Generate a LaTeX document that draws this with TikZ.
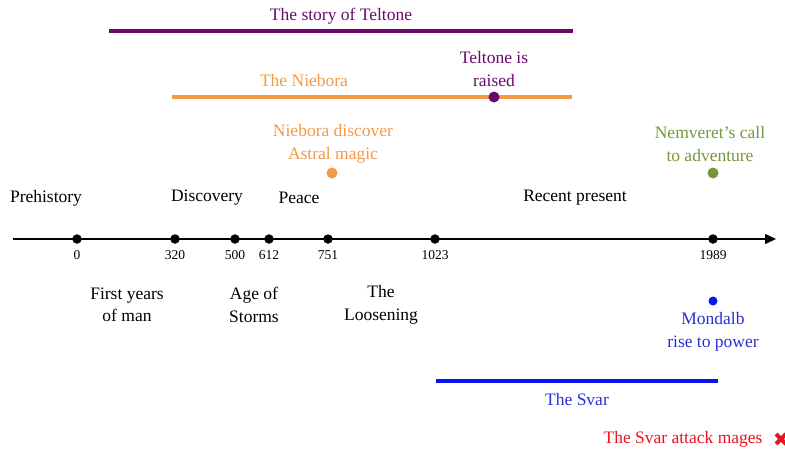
\documentclass[tikz,border=0pt]{standalone}
\usepackage{fontspec}
\setmainfont{Liberation Serif}
\usetikzlibrary{arrows.meta,calc}
\definecolor{cpurple}{HTML}{6A0A6A}
\definecolor{corange}{HTML}{F39A48}
\definecolor{cgreen}{HTML}{76983A}
\definecolor{cblue}{HTML}{0A14F0}
\definecolor{cbluetxt}{HTML}{2830D0}
\definecolor{cred}{HTML}{E8141E}
\begin{document}
\begin{tikzpicture}[x=1pt,y=-1pt,
  lbl/.style={font=\fontsize{17.5}{22.5}\selectfont, inner sep=0pt, align=center},
  yr/.style={font=\fontsize{13.5}{16}\selectfont, inner sep=0pt},
  tick/.style={circle, fill=black, inner sep=0pt, minimum size=9.5pt},
  evdot/.style={circle, inner sep=0pt, minimum size=11pt},
  bar/.style={line width=3.2pt}]
\useasboundingbox (0,0) rectangle (785,450);
% axis
\coordinate (axs) at (13,239);
\coordinate (axe) at (776,239);
\draw[line width=1.4pt, -{Triangle[length=11pt,width=10pt]}] (axs) -- (axe);
\foreach \x/\n in {77/0,175/320,235/500,269/612,328/751,435/1023,713/1989}{
  \node[tick] (t\n) at (\x,239) {};
  \node[yr] (y\n) at (\x,255) {\n};
}
% era labels
\node[lbl] (prehist) at (46,198) {Prehistory};
\node[lbl] (disc) at (207,198) {Discovery};
\node[lbl] (peace) at (299,198) {Peace};
\node[lbl] (recent) at (575,198) {Recent present};
\node[lbl] (first) at (127,305) {First years\\of man};
\node[lbl] (age) at (254,305) {Age of\\Storms};
\node[lbl] (loos) at (381,305) {The\\Loosening};
% Teltone
\coordinate (ps) at (109,31);
\coordinate (pe) at (573,31);
\draw[bar, cpurple] (ps) -- (pe);
\node[lbl, text=cpurple] (story) at (341,16) {The story of Teltone};
% Niebora
\coordinate (os) at (172,97);
\coordinate (oe) at (572,97);
\draw[bar, corange] (os) -- (oe);
\node[lbl, text=corange] (niebora) at (304,81) {The Niebora};
\node[evdot, fill=cpurple] (raisedot) at (494,97) {};
\node[lbl, text=cpurple] (raised) at (494,69) {Teltone is\\raised};
\node[evdot, fill=corange] (astraldot) at (332,173) {};
\node[lbl, text=corange] (astral) at (333,144) {Niebora discover\\Astral magic};
\node[evdot, fill=cgreen] (calldot) at (713,173) {};
\node[lbl, text=cgreen] (call) at (710,144) {Nemveret’s call\\to adventure};
% Mondalb
\node[circle, inner sep=0pt, minimum size=9pt, fill=cblue] (mondot) at (713,301) {};
\node[lbl, text=cbluetxt] (mondalb) at (713,332) {Mondalb\\rise to power};
% Svar
\coordinate (bs) at (436,381);
\coordinate (be) at (718,381);
\draw[bar, cblue] (bs) -- (be);
\node[lbl, text=cbluetxt] (svar) at (577,400) {The Svar};
\node[lbl, text=cred] (attack) at (683,439) {The Svar attack mages};
\coordinate (xc) at (781,439);
\draw[cred, line width=4pt] ($(xc)+(-5,-5)$) -- ($(xc)+(5,5)$);
\draw[cred, line width=4pt] ($(xc)+(-5,5)$) -- ($(xc)+(5,-5)$);
\end{tikzpicture}
\end{document}
